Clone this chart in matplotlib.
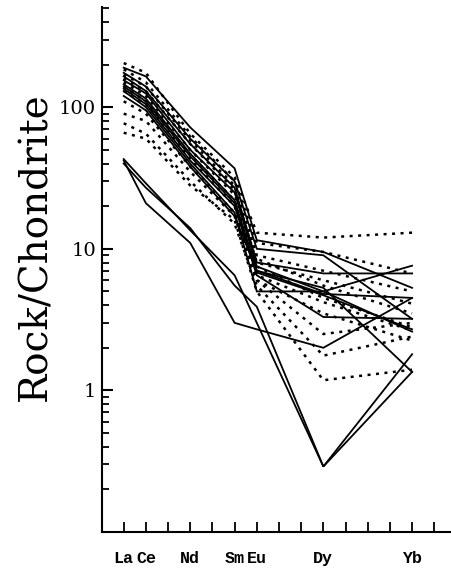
import numpy as np
import matplotlib.pyplot as plt
from matplotlib.ticker import LogLocator, FixedLocator, NullFormatter

# REE positions (La=1 ... Lu=15), only measured elements
elements = ["La", "Ce", "Nd", "Sm", "Eu", "Dy", "Yb"]
positions = [1, 2, 4, 6, 7, 10, 14]
tick_names = ["La", "Ce", "", "Nd", "", "Sm", "Eu", "", "", "Dy", "", "", "", "Yb", ""]

# chondrite-normalised values, solid lines
solid = [
    [190, 165, 72, 37, 11.5, 9.5, 5.3],
    [175, 140, 60, 30, 10, 9.0, 3.2],
    [165, 130, 55, 27, 8, 6.7, 6.7],
    [155, 125, 50, 25, 7.5, 5.0, 7.6],
    [145, 115, 47, 22, 7, 4.8, 4.5],
    [140, 110, 45, 21, 6.8, 4.7, 2.7],
    [135, 105, 42, 20, 6.5, 3.3, 3.2],
    [130, 100, 40, 18, 5.0, 5.0, 2.6],
    [120, 95, 38, 17, 7, 5.3, 1.35],
    [42, 21, 11, 3.0, 2.7, 2.0, 4.5],
    [43, 29, 13.5, 6.5, 3.0, 0.29, 1.8],
    [40, 27, 14, 5.5, 3.9, 0.29, 1.35],
]

# dotted lines
dotted = [
    [205, 175, 65, 32, 13, 12, 13],
    [185, 150, 62, 30, 11, 9.5, 6.7],
    [170, 140, 58, 28, 9, 7, 5.0],
    [160, 130, 55, 26, 8, 6, 4.1],
    [150, 120, 50, 24, 8.5, 5.5, 3.5],
    [140, 110, 46, 22, 7.5, 4.5, 2.8],
    [130, 105, 43, 20, 6.5, 4.2, 2.65],
    [110, 90, 38, 18, 6, 3.5, 2.25],
    [90, 80, 35, 17, 6, 2.5, 3.0],
    [77, 65, 30, 15, 5.5, 1.76, 2.4],
    [66, 60, 28, 16, 5, 1.18, 1.4],
]

fig = plt.figure(figsize=(4.52, 5.69), dpi=100)
ax = fig.add_axes([0.2246, 0.065, 0.7754, 0.9227])

for row in solid:
    ax.plot(positions, row, color="black", lw=1.3, solid_joinstyle="miter")
for row in dotted:
    ax.plot(positions, row, color="black", lw=1.8, linestyle=(0, (1.2, 2.2)))

ax.set_yscale("log")
ax.set_ylim(0.1, 510)
ax.set_xlim(0, 15.8)

ax.spines["top"].set_visible(False)
ax.spines["right"].set_visible(False)
ax.spines["left"].set_linewidth(1.5)
ax.spines["bottom"].set_linewidth(1.5)

ax.yaxis.set_major_locator(FixedLocator([1, 10, 100]))
ax.yaxis.set_minor_locator(LogLocator(base=10, subs=np.arange(2, 10)))
ax.yaxis.set_minor_formatter(NullFormatter())
ax.set_yticklabels(["1", "10", "100"])
ax.tick_params(axis="y", which="major", direction="in", length=8, width=1.5, pad=4,
               labelsize=14)
ax.tick_params(axis="y", which="minor", direction="in", length=5, width=1.3)

ax.set_xticks(range(1, 16))
ax.set_xticklabels(tick_names, fontfamily="Liberation Mono", fontweight="bold",
                   fontsize=12)
ax.tick_params(axis="x", direction="in", length=7, width=1.3, pad=14)

for lab in ax.get_yticklabels():
    lab.set_fontfamily("DejaVu Serif")

ax.set_ylabel("Rock/Chondrite", fontfamily="DejaVu Serif", fontsize=28, va="center")
ax.yaxis.set_label_coords(-0.187, 0.543)

fig.savefig("out.png", dpi=100)
